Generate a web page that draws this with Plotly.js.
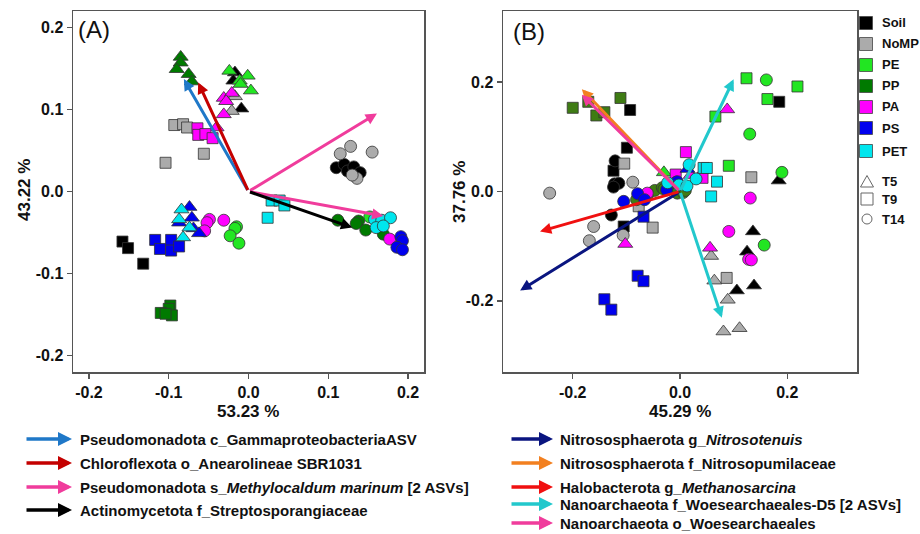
<!DOCTYPE html>
<html><head><meta charset="utf-8">
<script src="https://cdn.plot.ly/plotly-3.0.1.min.js"></script>
<style>html,body{margin:0;padding:0;background:#fff}#plot{width:920px;height:534px}</style>
</head><body><div id="plot"></div>
<script>
// ---------------- DATA ----------------
const groups = ['Soil','NoMP','PE','PP','PA','PS','PET'];
const times = ['T5','T9','T14'];

// Panel A (PC1 53.23 %, PC2 43.22 %)
const A_Soil_x = [-0.017,-0.019,-0.009, -0.158,-0.151,-0.132, 0.110,0.120,0.124,0.132,0.140];
const A_Soil_y = [0.145,0.135,0.101, -0.061,-0.069,-0.088, 0.029,0.033,0.025,0.030,0.023];
const A_Soil_t = ['T5','T5','T5','T9','T9','T9','T14','T14','T14','T14','T14'];
const A_NoMP_x = [-0.017,-0.021, -0.093,-0.082,-0.077,-0.056,-0.104, 0.115,0.128,0.155,0.136,0.130];
const A_NoMP_y = [0.116,0.098, 0.081,0.082,0.078,0.046,0.035, 0.046,0.055,0.048,0.016,0.020];
const A_NoMP_t = ['T5','T5','T9','T9','T9','T9','T9','T14','T14','T14','T14','T14'];
const A_PE_x = [-0.024,-0.001,-0.011,0.003,-0.010, -0.015,-0.017,-0.023,-0.012,0.152];
const A_PE_y = [0.147,0.141,0.135,0.123,0.131, -0.043,-0.045,-0.054,-0.063,-0.031];
const A_PE_t = ['T5','T5','T5','T5','T5','T14','T14','T14','T14','T14'];
const A_PP_x = [-0.085,-0.085,-0.090,-0.075,-0.071, -0.098,-0.100,-0.110,-0.096,-0.104, 0.112,0.138,0.135,0.147,0.169];
const A_PP_y = [0.164,0.157,0.149,0.143,0.134, -0.139,-0.143,-0.148,-0.151,-0.149, -0.035,-0.036,-0.039,-0.047,-0.052];
const A_PP_t = ['T5','T5','T5','T5','T5','T9','T9','T9','T9','T9','T14','T14','T14','T14','T14'];
const A_PA_x = [-0.031,-0.021,-0.028,-0.031,-0.040, -0.064,-0.063,-0.054,-0.045, -0.049,-0.052,-0.031,-0.055,0.177];
const A_PA_y = [0.114,0.120,0.110,0.094,0.078, 0.077,0.069,0.070,0.065, -0.034,-0.038,-0.035,-0.048,-0.058];
const A_PA_t = ['T5','T5','T5','T5','T5','T9','T9','T9','T9','T14','T14','T14','T14','T14'];
const A_PS_x = [-0.074,-0.071,-0.087,-0.069,-0.062, -0.117,-0.111,-0.097,-0.097,-0.087, 0.191,0.193,0.186,0.193];
const A_PS_y = [-0.019,-0.032,-0.038,-0.045,-0.051, -0.059,-0.070,-0.059,-0.072,-0.067, -0.055,-0.060,-0.068,-0.071];
const A_PS_t = ['T5','T5','T5','T5','T5','T9','T9','T9','T9','T9','T14','T14','T14','T14'];
const A_PET_x = [-0.084,-0.087,-0.074,-0.082, 0.029,0.039,0.045,0.024, 0.158,0.167,0.178,0.160,0.169];
const A_PET_y = [-0.022,-0.034,-0.044,-0.056, -0.011,-0.011,-0.017,-0.032, -0.034,-0.035,-0.032,-0.044,-0.042];
const A_PET_t = ['T5','T5','T5','T5','T9','T9','T9','T9','T14','T14','T14','T14','T14'];

// Panel A loading arrows (tips; tails at origin)
const A_arrow_names = ['Gamma','Chloro','Methylo1','Methylo2','Actino'];
const A_arrow_x = [-0.081,-0.063,0.161,0.169,0.130];
const A_arrow_y = [0.137,0.133,0.095,-0.030,-0.044];

// Panel B (PC1 45.29 %, PC2 37.76 %)
const B_Soil_x = [0.184,0.136,0.125,0.106,0.138, -0.093,-0.099,-0.124,-0.105,0.185, -0.121,-0.122,-0.114,-0.128,-0.124];
const B_Soil_y = [0.020,-0.073,-0.110,-0.181,-0.172, 0.149,0.080,0.038,-0.064,0.164, 0.056,0.014,0.015,-0.043,0.008];
const B_Soil_t = ['T5','T5','T5','T5','T5','T9','T9','T9','T9','T9','T14','T14','T14','T14','T14'];
const B_NoMP_x = [0.058,0.064,0.089,0.081,0.111, -0.104,-0.077,-0.051,0.133,0.087, -0.243,-0.088,-0.161,-0.169,-0.106];
const B_NoMP_y = [-0.118,-0.163,-0.198,-0.256,-0.250, 0.051,-0.027,-0.066,0.026,-0.158, -0.003,0.017,-0.064,-0.090,-0.080];
const B_NoMP_t = ['T5','T5','T5','T5','T5','T9','T9','T9','T9','T9','T14','T14','T14','T14','T14'];
const B_PE_x = [-0.030, 0.124,0.219,0.163,0.066,0.091, 0.161,0.130,0.190,0.157];
const B_PE_y = [0.035, 0.207,0.192,0.169,0.137,0.047, 0.204,0.105,0.035,-0.098];
const B_PE_t = ['T5','T9','T9','T9','T9','T9','T14','T14','T14','T14'];
const B_PP_x = [-0.200,-0.171,-0.156,-0.141,-0.111, -0.081,-0.060,-0.047,-0.033,-0.030,-0.011,-0.005,0.006,0.010];
const B_PP_y = [0.153,0.164,0.139,0.145,0.171, -0.015,-0.005,0.002,0.007,0.004,0.009,-0.003,-0.002,0.002];
const B_PP_t = ['T9','T9','T9','T9','T9','T14','T14','T14','T14','T14','T14','T14','T14','T14'];
const B_PA_x = [0.088,0.056,-0.102,0.020, -0.008,0.011,0.042, -0.061,0.131,0.091,0.128,0.133];
const B_PA_y = [0.150,-0.103,-0.096,0.030, 0.031,0.072,0.025, -0.003,-0.012,-0.073,-0.124,-0.125];
const B_PA_t = ['T5','T5','T5','T5','T9','T9','T9','T14','T14','T14','T14','T14'];
const B_PS_x = [0.014, -0.068,-0.079,-0.068,-0.141,-0.128, -0.105,-0.079,-0.066,-0.025,-0.007,-0.005];
const B_PS_y = [0.041, -0.046,-0.154,-0.164,-0.197,-0.216, -0.018,-0.004,-0.015,0.003,0.017,0.018];
const B_PS_t = ['T5','T9','T9','T9','T9','T9','T14','T14','T14','T14','T14','T14'];
const B_PET_x = [0.044,0.050,0.069,0.058, 0.017,-0.023,-0.002,0.013,0.030];
const B_PET_y = [0.043,0.043,0.018,-0.009, 0.049,0.016,0.012,0.010,0.023];
const B_PET_t = ['T9','T9','T9','T9','T14','T14','T14','T14','T14'];

// Panel B loading arrows
const B_arrow_names = ['Nitrosotenuis','Nitrosopumilaceae','Methanosarcina','D5a','D5b','Woese'];
const B_arrow_x = [-0.298,-0.183,-0.261,0.100,0.078,-0.183];
const B_arrow_y = [-0.181,0.187,-0.073,0.205,-0.231,0.177];

// Tick labels
const A_ticks = [-0.2,-0.1,0.0,0.1,0.2];
const A_tick_text = ['-0.2','-0.1','0.0','0.1','0.2'];
const B_ticks = [-0.2,0.0,0.2];
const B_tick_text = ['-0.2','0.0','0.2'];

// Legend texts
const legendLeft = ['Pseudomonadota c_GammaproteobacteriaASV','Chloroflexota o_Anearolineae SBR1031',
  'Pseudomonadota s_<i>Methylocaldum marinum</i> [2 ASVs]','Actinomycetota f_Streptosporangiaceae'];
const legendRight = ['Nitrososphaerota g_<i>Nitrosotenuis</i>','Nitrososphaerota f_Nitrosopumilaceae',
  'Halobacterota g_<i>Methanosarcina</i>','Nanoarchaeota f_Woesearchaeales-D5 [2 ASVs]','Nanoarchaeota o_Woesearchaeales'];

// ---------------- STYLE ----------------
const colA = {Soil:'#000000',NoMP:'#ababab',PE:'#22e622',PP:'#007a00',PA:'#ff00ff',PS:'#0000ee',PET:'#00e6ee'};
const colB = Object.assign({}, colA, {PP:'#3f7c14'});
const sym = {T5:'triangle-up',T9:'square',T14:'circle'};
const msize = {T5:13,T9:11,T14:12};
const A_arrow_col = ['#1f78c8','#c40000','#f03c9c','#f03c9c','#000000'];
const B_arrow_col = ['#0a1580','#f28020','#f01010','#22c8cc','#22c8cc','#f03c9c'];
const legLcol = ['#1f78c8','#c40000','#f03c9c','#000000'];
const legRcol = ['#0a1580','#f28020','#f01010','#22c8cc','#f03c9c'];

const dataA = {Soil:[A_Soil_x,A_Soil_y,A_Soil_t],NoMP:[A_NoMP_x,A_NoMP_y,A_NoMP_t],PE:[A_PE_x,A_PE_y,A_PE_t],
  PP:[A_PP_x,A_PP_y,A_PP_t],PA:[A_PA_x,A_PA_y,A_PA_t],PS:[A_PS_x,A_PS_y,A_PS_t],PET:[A_PET_x,A_PET_y,A_PET_t]};
const dataB = {Soil:[B_Soil_x,B_Soil_y,B_Soil_t],NoMP:[B_NoMP_x,B_NoMP_y,B_NoMP_t],PE:[B_PE_x,B_PE_y,B_PE_t],
  PP:[B_PP_x,B_PP_y,B_PP_t],PA:[B_PA_x,B_PA_y,B_PA_t],PS:[B_PS_x,B_PS_y,B_PS_t],PET:[B_PET_x,B_PET_y,B_PET_t]};

const traces = [];
function addPanel(data, cols, xa, ya){
  groups.forEach(g=>{
    const [xs,ys,ts] = data[g];
    times.forEach(t=>{
      const xx=[],yy=[];
      ts.forEach((tt,i)=>{ if(tt===t){xx.push(xs[i]);yy.push(ys[i]);} });
      if(!xx.length) return;
      traces.push({type:'scatter',mode:'markers',x:xx,y:yy,xaxis:xa,yaxis:ya,name:g+' '+t,
        marker:{symbol:sym[t],size:msize[t],color:cols[g],line:{color:'#333',width:0.8}},hoverinfo:'x+y+name'});
    });
  });
}
addPanel(dataA,colA,'x','y');
addPanel(dataB,colB,'x2','y2');

const W=920,H=534;
const px = v=>v/W, py = v=>1-v/H;
const B = s=>'<b>'+s+'</b>';
const annotations=[], shapes=[];
// plot arrows
A_arrow_x.forEach((x,i)=>annotations.push({xref:'x',yref:'y',axref:'x',ayref:'y',x:x,y:A_arrow_y[i],ax:0,ay:0,
  showarrow:true,arrowhead:2,arrowsize:0.75,arrowwidth:3,arrowcolor:A_arrow_col[i],text:''}));
B_arrow_x.forEach((x,i)=>annotations.push({xref:'x2',yref:'y2',axref:'x2',ayref:'y2',x:x,y:B_arrow_y[i],ax:0,ay:0,
  showarrow:true,arrowhead:2,arrowsize:0.75,arrowwidth:3,arrowcolor:B_arrow_col[i],text:''}));

function txt(x,y,text,font,opts){
  annotations.push(Object.assign({xref:'paper',yref:'paper',x:px(x),y:py(y),xanchor:'center',yanchor:'middle',
    text:text,showarrow:false,font:font},opts||{}));
}
const fam = 'Liberation Sans, Arial, sans-serif';
const titleFont = {family:fam,size:17,color:'#111'};
// axis titles
txt(248,411,B('53.23 %'),titleFont);
txt(680,411,B('45.29 %'),titleFont);
txt(24,190,B('43.22 %'),titleFont,{textangle:-90});
txt(459,192,B('37.76 %'),titleFont,{textangle:-90});
// panel labels
const pl = {family:fam,size:24,color:'#111'};
txt(76,29,'(A)',pl,{xanchor:'left'});
txt(511,31,'(B)',pl,{xanchor:'left'});

// right legend (treatments)
const legFont = {family:fam,size:13,color:'#111'};
const legY = [23,44,65,86,107,128,151];
groups.forEach((g,i)=>{
  shapes.push({type:'rect',xref:'paper',yref:'paper',x0:px(859.5),x1:px(872.5),y0:py(legY[i]-6.5),y1:py(legY[i]+6.5),
    fillcolor: colA[g], line:{color:'#444',width:0.8}});
  txt(880,legY[i],B(g),legFont,{xanchor:'left'});
});
const timeY=[181,199,219];
shapes.push({type:'path',xref:'paper',yref:'paper',path:`M ${px(860.5)} ${py(187)} L ${px(873.5)} ${py(187)} L ${px(867)} ${py(175.5)} Z`,line:{color:'#666',width:1}});
shapes.push({type:'rect',xref:'paper',yref:'paper',x0:px(861),x1:px(873),y0:py(timeY[1]-6),y1:py(timeY[1]+6),line:{color:'#666',width:1}});
shapes.push({type:'circle',xref:'paper',yref:'paper',x0:px(862),x1:px(872),y0:py(timeY[2]-5),y1:py(timeY[2]+5),line:{color:'#666',width:1}});
times.forEach((t,i)=>txt(880,timeY[i],B(t),legFont,{xanchor:'left'}));

// bottom legend (arrows)
const bl = {family:fam,size:15,color:'#111'};
const rowL=[439,463,487,510], rowR=[439,463,487,504,523];
function legArrow(x0,x1,y,col){
  annotations.push({xref:'paper',yref:'paper',axref:'paper',ayref:'paper',x:px(x1),y:py(y),ax:px(x0),ay:py(y),
    showarrow:true,arrowhead:2,arrowsize:0.8,arrowwidth:3.5,arrowcolor:col,text:''});
}
legendLeft.forEach((t,i)=>{ legArrow(25,72,rowL[i],legLcol[i]); txt(78,rowL[i],B(t),bl,{xanchor:'left'}); });
legendRight.forEach((t,i)=>{ legArrow(510,553,rowR[i],legRcol[i]); txt(558,rowR[i],B(t),bl,{xanchor:'left'}); });

const tickFont = {family:fam,size:16,color:'#111',weight:'bold'};
const axBase = {showgrid:false,zeroline:false,showline:true,mirror:true,linecolor:'#555',linewidth:1.5,
  ticks:'outside',ticklen:5,tickcolor:'#555',tickwidth:1.5,tickfont:tickFont,tickmode:'array',fixedrange:true};
const yDom=[py(372),py(11)];
const layout = {
  width:W,height:H,margin:{l:0,r:0,t:0,b:0},paper_bgcolor:'#fff',plot_bgcolor:'#fff',showlegend:false,
  xaxis:Object.assign({},axBase,{domain:[px(73),px(424)],range:[-0.22,0.22],tickvals:A_ticks,ticktext:A_tick_text.map(B),anchor:'y'}),
  yaxis:Object.assign({},axBase,{domain:yDom,range:[-0.22,0.22],tickvals:A_ticks,ticktext:A_tick_text.map(B),anchor:'x'}),
  xaxis2:Object.assign({},axBase,{domain:[px(503),px(857)],range:[-0.33,0.33],tickvals:B_ticks,ticktext:B_tick_text.map(B),anchor:'y2'}),
  yaxis2:Object.assign({},axBase,{domain:yDom,range:[-0.33,0.33],tickvals:B_ticks,ticktext:B_tick_text.map(B),anchor:'x2'}),
  annotations:annotations,shapes:shapes
};
Plotly.newPlot('plot',traces,layout,{displayModeBar:false,staticPlot:true});
</script></body></html>
